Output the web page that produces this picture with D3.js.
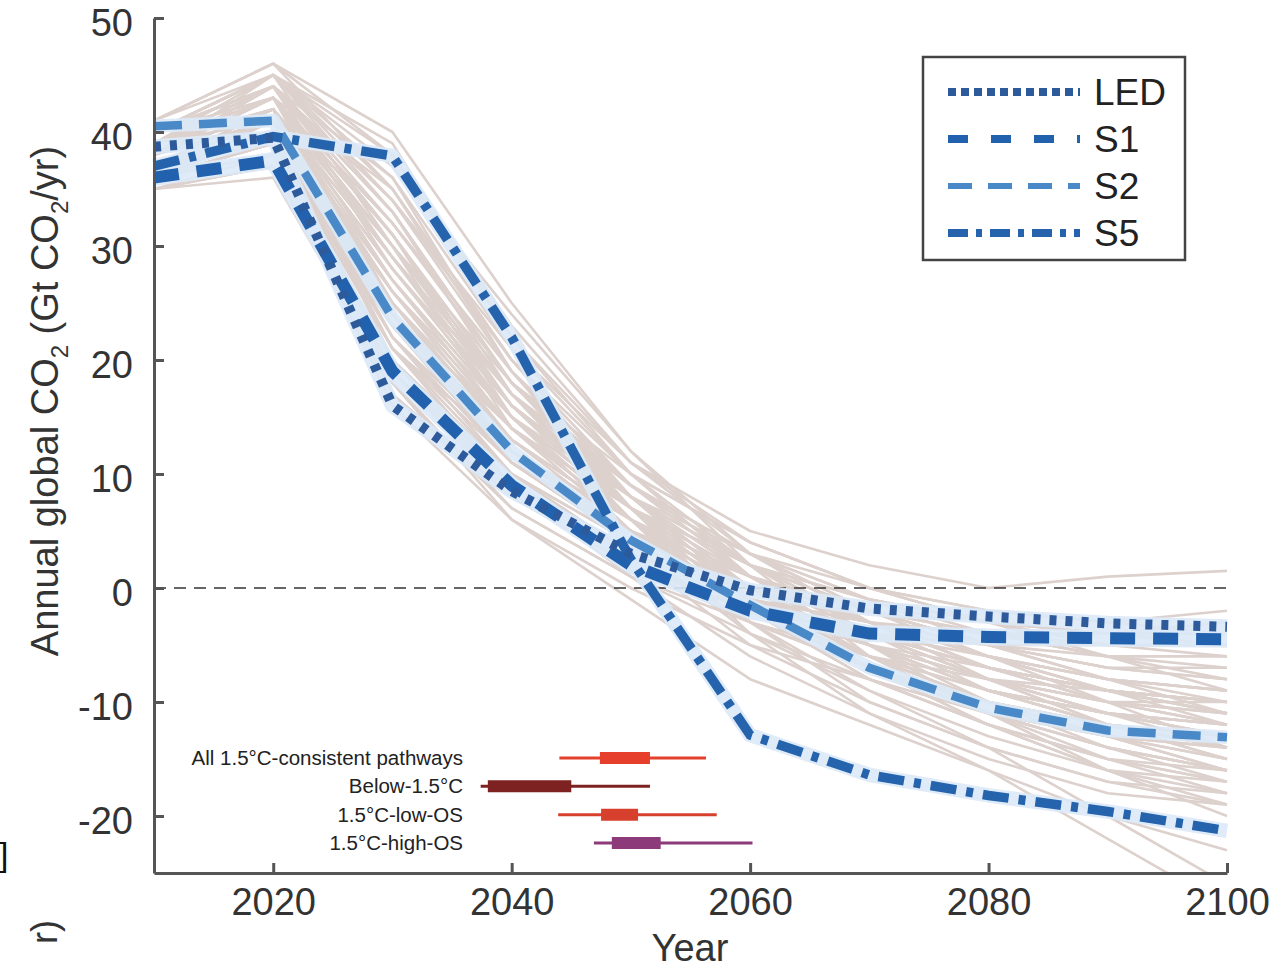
<!DOCTYPE html>
<html>
<head>
<meta charset="utf-8">
<title>Annual global CO2</title>
<style>
    body { margin: 0; background: #fff; }
    text { font-family: "Liberation Sans", Arial, sans-serif; }
    .axis path, .axis line { stroke: #555; stroke-width: 3; }
    .axis text { font-size: 38px; fill: #333; font-family: "Liberation Sans", Arial, sans-serif; }
</style>
</head>
<body>
<svg width="1281" height="973"></svg>
<script src="https://d3js.org/d3.v7.min.js"></script>
<script>
// --- data ---------------------------------------------------------------
var years = [2010, 2020, 2030, 2040, 2050, 2060, 2070, 2080, 2090, 2100];

var led = [38.7, 39.5, 16, 8.5, 3, -0.2, -1.8, -2.5, -3.1, -3.4];
var s1  = [36, 37.5, 19, 9, 2, -2, -4, -4.3, -4.4, -4.5];
var s2  = [40.5, 41, 23.7, 12, 4.2, -1.5, -7, -10.5, -12.5, -13.1];
var s5  = [37, 39.6, 37.9, 22, 2.5, -12.9, -16.4, -18.2, -19.6, -21.3];

var otherPathways = [
    [38, 42, 20, 8, 2, -2, -4, -5, -5, -5],
    [37, 40, 18, 7, 1, -3, -6, -8, -9, -10],
    [36, 38, 16, 6, 0, -5, -8, -11, -13, -14],
    [39, 43, 25, 12, 4, -2, -6, -9, -11, -12],
    [40, 45, 30, 14, 5, -1, -5, -8, -10, -11],
    [38, 44, 28, 15, 7, 0, -4, -7, -9, -10],
    [37, 41, 22, 10, 3, -3, -7, -10, -12, -13],
    [35, 37, 17, 7, 1, -4, -8, -12, -15, -17],
    [39, 42, 26, 13, 5, -1, -5, -9, -12, -15],
    [40, 44, 33, 18, 8, 1, -3, -6, -8, -9],
    [36, 39, 21, 9, 2, -2, -5, -7, -9, -11],
    [38, 41, 24, 11, 4, -1, -4, -6, -8, -9],
    [41, 46, 35, 20, 10, 4, 0, -2, -3, -4],
    [39, 45, 38, 22, 11, 5, 2, 0, 1, 1.5],
    [38, 43, 31, 16, 6, -3, -9, -13, -16, -18],
    [37, 40, 19, 9, 3, -5, -10, -14, -17, -19],
    [36, 38, 23, 11, 4, -4, -9, -14, -20, -26],
    [35, 36, 18, 6, -1, -8, -12, -16, -20, -23],
    [40, 44, 29, 17, 9, 3, -2, -6, -10, -14],
    [39, 43, 27, 14, 6, 0, -4, -8, -12, -15],
    [38, 42, 25, 13, 6, 1, -2, -4, -6, -7],
    [37, 39, 20, 10, 3, -1, -3, -5, -6, -6],
    [40, 45, 36, 21, 10, 2, -4, -9, -12, -14],
    [38, 44, 34, 19, 8, 0, -6, -10, -13, -15],
    [36, 41, 27, 15, 7, 0, -5, -10, -14, -16],
    [39, 42, 28, 16, 8, 2, -3, -7, -9, -11],
    [37, 40, 24, 12, 5, -2, -7, -11, -14, -16],
    [41, 45, 37, 24, 12, 3, -3, -8, -12, -14],
    [38, 43, 32, 18, 9, 2, -2, -5, -7, -8],
    [36, 39, 22, 12, 5, -1, -6, -11, -15, -18],
    [35, 37, 19, 8, 2, -3, -7, -10, -12, -13],
    [40, 44, 31, 17, 7, -2, -8, -12, -15, -17],
    [39, 43, 30, 18, 10, 4, 0, -3, -5, -6],
    [38, 42, 26, 14, 6, -1, -6, -10, -13, -15],
    [37, 41, 23, 11, 5, 1, -2, -4, -5, -5],
    [40, 45, 39, 22, 10, 1, -5, -11, -16, -20],
    [39, 44, 33, 17, 6, -4, -11, -16, -22, -28],
    [38, 42, 29, 15, 5, -2, -8, -12, -15, -16],
    [37, 40, 25, 14, 7, 2, -1, -3, -4, -4],
    [36, 38, 20, 9, 1, -6, -11, -15, -18, -19],
    [41, 46, 40, 25, 12, 2, -6, -11, -14, -16],
    [38, 43, 35, 20, 8, -1, -7, -11, -13, -14],
    [39, 41, 27, 15, 7, 1, -4, -8, -11, -13],
    [37, 42, 29, 16, 7, -1, -5, -9, -11, -12],
    [36, 40, 24, 13, 6, 0, -4, -7, -10, -12],
    [40, 43, 32, 19, 9, 2, -3, -7, -10, -12],
    [38, 41, 21, 10, 4, -1, -3, -4, -4, -3],
    [39, 44, 36, 19, 7, -3, -10, -14, -17, -18],
    [37, 39, 17, 8, 2, -2, -5, -8, -10, -10],
    [38, 45, 34, 21, 11, 4, 0, -3, -4, -5],
    [37, 41, 26, 14, 6, 0, -3, -6, -8, -9],
    [38, 42, 28, 15, 6, -1, -5, -8, -10, -11],
    [39, 43, 30, 16, 7, 0, -4, -7, -9, -10],
    [36, 40, 23, 12, 5, -1, -5, -9, -12, -14],
    [40, 44, 34, 20, 9, 1, -5, -9, -11, -12],
    [37, 41, 25, 13, 6, 1, -2, -5, -7, -8],
    [38, 43, 31, 17, 8, 1, -4, -8, -11, -13],
    [39, 44, 32, 18, 8, 0, -6, -10, -13, -16],
    [36, 39, 21, 11, 4, -2, -6, -9, -11, -13],
    [40, 45, 35, 19, 9, 2, -2, -5, -7, -7],
    [38, 42, 27, 14, 7, 2, -1, -3, -6, -9],
    [37, 40, 22, 11, 4, -2, -7, -12, -16, -17],
    [39, 43, 29, 16, 8, 3, -1, -4, -6, -8],
    [41, 46, 38, 23, 11, 3, -2, -6, -9, -10],
    [35, 38, 20, 10, 4, -1, -4, -7, -9, -10],
    [38, 44, 33, 18, 7, -1, -7, -12, -16, -19],
    [37, 42, 28, 16, 8, 2, -2, -5, -8, -11],
    [39, 42, 24, 12, 5, 0, -3, -6, -9, -12],
    [36, 40, 26, 15, 8, 2, -3, -7, -10, -12],
    [40, 43, 30, 17, 9, 3, -1, -5, -8, -10],
    [37, 40, 21, 12, 6, 0, -4, -8, -11, -14],
    [38, 41, 23, 12, 5, -1, -6, -10, -13, -16],
    [39, 44, 31, 15, 6, -2, -7, -11, -14, -17],
    [36, 39, 24, 14, 7, 1, -3, -6, -9, -11],
    [40, 45, 33, 18, 8, 0, -5, -9, -12, -13],
    [38, 42, 30, 17, 9, 3, 0, -2, -3, -2]
];

var yTicks = [-20, -10, 0, 10, 20, 30, 40, 50];
var xTicks = [2020, 2040, 2060, 2080, 2100];

var scenarioNames = ["LED", "S1", "S2", "S5"];

var bandLabels = ["All 1.5\u00B0C-consistent pathways", "Below-1.5\u00B0C", "1.5\u00B0C-low-OS", "1.5\u00B0C-high-OS"];
var bandRange  = [[2044, 2056.3], [2037.4, 2051.6], [2043.9, 2057.2], [2046.9, 2060.2]];
var bandIQR    = [[2047.4, 2051.6], [2038.0, 2045.0], [2047.5, 2050.6], [2048.4, 2052.5]];

// --- setup --------------------------------------------------------------
var svg = d3.select("svg");

var x = d3.scaleLinear().domain([2010, 2100]).range([154, 1227]);
var y = d3.scaleLinear().domain([-25, 50]).range([873, 18]);

var line = d3.line()
    .x(function(d, i) { return x(years[i]); })
    .y(function(d) { return y(d); });

// clip so pathways dropping below -25 stop at the axis
svg.append("clipPath").attr("id", "plot")
  .append("rect")
    .attr("x", x(2010)).attr("y", y(50))
    .attr("width", x(2100) - x(2010) + 2)
    .attr("height", y(-25) - y(50));

// grey pathways
svg.append("g")
    .attr("clip-path", "url(#plot)")
    .selectAll("path")
    .data(otherPathways)
    .enter().append("path")
    .attr("d", line)
    .attr("fill", "none")
    .attr("stroke", "#ddd1cd")
    .attr("stroke-width", 2.6)
    .attr("stroke-linejoin", "round");

// zero line
svg.append("line")
    .attr("x1", x(2010)).attr("x2", x(2100))
    .attr("y1", y(0)).attr("y2", y(0))
    .attr("stroke", "#333")
    .attr("stroke-width", 1.6)
    .attr("stroke-dasharray", "12,8");

// scenario lines
var styles = {
    LED: {data: led, color: "#2d5a9b", width: 10, dash: "7,9"},
    S1:  {data: s1,  color: "#2161ae", width: 12, dash: "25,18"},
    S2:  {data: s2,  color: "#4a89c8", width: 8.5, dash: "28,17"},
    S5:  {data: s5,  color: "#2563ad", width: 9.5, dash: "26,10,7,10"}
};
var drawOrder = ["S2", "S1", "S5", "LED"];

var gs = svg.append("g");
drawOrder.forEach(function(k) {
    var s = styles[k];
    gs.append("path")
        .attr("d", line(s.data))
        .attr("fill", "none")
        .attr("stroke", "#dce9f8")
        .attr("stroke-opacity", 0.9)
        .attr("stroke-width", s.width + 5)
        .attr("stroke-linejoin", "round");
});
drawOrder.forEach(function(k) {
    var s = styles[k];
    gs.append("path")
        .attr("d", line(s.data))
        .attr("fill", "none")
        .attr("stroke", s.color)
        .attr("stroke-width", s.width)
        .attr("stroke-dasharray", s.dash);
});

// axes
var yAxis = d3.axisLeft(y)
    .tickValues(yTicks)
    .tickSizeInner(-10)
    .tickSizeOuter(0)
    .tickPadding(21)
    .tickFormat(String);

var xAxis = d3.axisBottom(x)
    .tickValues(xTicks)
    .tickSizeInner(-10)
    .tickSizeOuter(0)
    .tickPadding(15)
    .tickFormat(String);

var gY = svg.append("g")
    .attr("class", "axis")
    .attr("transform", "translate(" + x(2010) + ",0)")
    .call(yAxis);
gY.selectAll("text").attr("dy", "0.45em");

var gX = svg.append("g")
    .attr("class", "axis")
    .attr("transform", "translate(0," + y(-25) + ")")
    .call(xAxis);

// axis titles
svg.append("text")
    .attr("x", 690).attr("y", 961)
    .attr("text-anchor", "middle")
    .attr("font-size", 38)
    .attr("fill", "#333")
    .text("Year");

var yt = svg.append("text")
    .attr("transform", "translate(58,401) rotate(-90)")
    .attr("text-anchor", "middle")
    .attr("font-size", 38)
    .attr("fill", "#333");
yt.append("tspan").text("Annual global CO");
yt.append("tspan").attr("font-size", 24).attr("dy", 10).text("2");
yt.append("tspan").attr("dy", -10).text(" (Gt CO");
yt.append("tspan").attr("font-size", 24).attr("dy", 10).text("2");
yt.append("tspan").attr("dy", -10).text("/yr)");

// cropped bits at left edge of the source figure
svg.append("text")
    .attr("x", -1).attr("y", 866)
    .attr("font-size", 34)
    .attr("fill", "#111")
    .text("]");
svg.append("text")
    .attr("transform", "translate(57,944) rotate(-90)")
    .attr("font-size", 36)
    .attr("fill", "#333")
    .text("r)");

// legend
var legend = svg.append("g");
legend.append("rect")
    .attr("x", 923).attr("y", 57)
    .attr("width", 262).attr("height", 203)
    .attr("fill", "#fff")
    .attr("stroke", "#444")
    .attr("stroke-width", 2.5);

var ly = d3.scalePoint().domain(scenarioNames).range([92, 233]);
scenarioNames.forEach(function(k) {
    var s = styles[k];
    legend.append("line")
        .attr("x1", 948).attr("x2", 1080)
        .attr("y1", ly(k)).attr("y2", ly(k))
        .attr("stroke", s.color)
        .attr("stroke-width", k === "S2" ? 6 : 8)
        .attr("stroke-dasharray", k === "LED" ? "8,5" : (k === "S1" ? "20,23" : (k === "S2" ? "24,16" : "20,8,6,8")));
    legend.append("text")
        .attr("x", 1094).attr("y", ly(k) + 13)
        .attr("font-size", 37)
        .attr("fill", "#222")
        .text(k);
});

// range bars
var bandColors = ["#e6402d", "#7e2121", "#d8402e", "#8d3a7b"];
var by = d3.scalePoint().domain(bandLabels).range([758, 843]);
var gb = svg.append("g");
bandLabels.forEach(function(lab, i) {
    gb.append("line")
        .attr("x1", x(bandRange[i][0])).attr("x2", x(bandRange[i][1]))
        .attr("y1", by(lab)).attr("y2", by(lab))
        .attr("stroke", bandColors[i])
        .attr("stroke-width", 3);
    gb.append("line")
        .attr("x1", x(bandIQR[i][0])).attr("x2", x(bandIQR[i][1]))
        .attr("y1", by(lab)).attr("y2", by(lab))
        .attr("stroke", bandColors[i])
        .attr("stroke-width", 12);
    gb.append("text")
        .attr("x", 463).attr("y", by(lab) + 7)
        .attr("text-anchor", "end")
        .attr("font-family", "'Open Sans', sans-serif")
        .attr("font-size", 20.5)
        .attr("fill", "#222")
        .text(lab);
});
</script>
</body>
</html>
